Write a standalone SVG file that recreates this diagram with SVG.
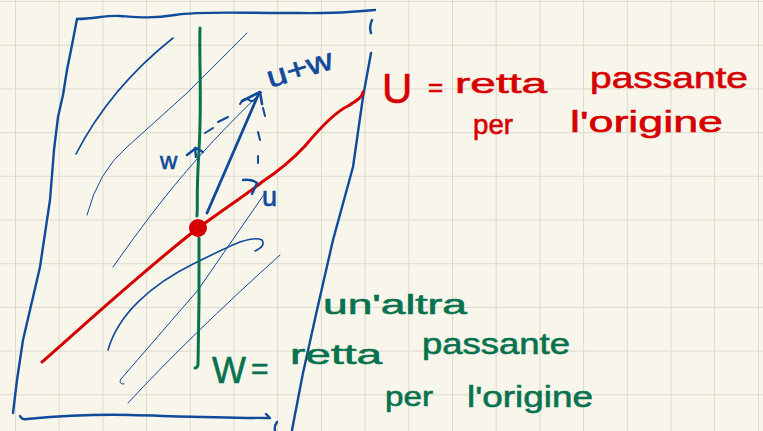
<svg xmlns="http://www.w3.org/2000/svg" width="763" height="431" viewBox="0 0 763 431">
<defs>
<pattern id="grid" patternUnits="userSpaceOnUse" x="15" y="1" width="43.7" height="43.7">
<path d="M0,0 V43.7 M0,0 H43.7" fill="none" stroke="#dcdacb" stroke-width="2"/>
</pattern>
<style>
.b{fill:none;stroke:#0f4a9b;stroke-linecap:round;stroke-linejoin:round}
.r{fill:none;stroke:#d60000;stroke-linecap:round;stroke-linejoin:round}
.g{fill:none;stroke:#08724f;stroke-linecap:round;stroke-linejoin:round}
.frame{stroke-width:2.4}
.thin{stroke-width:1}
.mid{stroke-width:1.6}
.tb{font-family:"Liberation Sans","DejaVu Sans",sans-serif;fill:#0f4a9b;stroke:#0f4a9b;stroke-width:0.6}
.tr{font-family:"Liberation Sans","DejaVu Sans",sans-serif;fill:#d60000;stroke:#d60000;stroke-width:0.6}
.tg{font-family:"Liberation Sans","DejaVu Sans",sans-serif;fill:#08724f;stroke:#08724f;stroke-width:0.6}
</style>
</defs>
<rect width="763" height="431" fill="#f8f6ea"/>
<rect width="763" height="431" fill="url(#grid)"/>

<g id="plane">
<path class="b frame" d="M77,19 C95,19 105,15 120,16 S150,19 175,15 S240,13 280,13 S330,14 375,10"/>
<path class="b frame" d="M77,19 L72,45 L67,70 L63,95 L58,117 L54,150 L50,200 L40,267 L30,310 L23,340 L17,380 L13,413"/>
<path class="b frame" d="M20,416 Q22,420 27,419 C60,416 90,414 130,415 S220,418 270,418 L266,414"/>
<path class="b frame" d="M372,20 Q369,27 371,33"/>
<path class="b frame" d="M371,53 L363,97 L353,167 L333,240 L317,310 L303,373 L292,430"/>
<path class="b frame" d="M277,422 Q274,426 275,431"/>
</g>

<g id="hatching">
<path class="b mid" d="M76,154 Q110,88 173,38"/>
<path class="b thin" d="M87,215 Q98,172 127,147 L187,93 Q215,65 247,33"/>
<path class="b thin" d="M113,267 C150,215 190,160 262,92"/>
<path class="b mid" d="M108,350 C118,315 150,285 195,263 C225,249 250,234 262,240 Q266,246 255,251"/>
<path class="b thin" d="M124,384 Q118,384 121,379 L198,290 L265,193"/>
<path class="b thin" d="M128,403 Q190,336 280,255"/>
</g>

<g id="line-U">
<path class="r" stroke-width="3" d="M42,362 C70,338 130,282 193,232 C225,208 245,196 262,182 C280,170 292,160 305,146 C320,128 335,112 348,106 C356,101 362,98 363,92"/>
</g>

<g id="line-W">
<path class="g" stroke-width="3" d="M200,28 C199,60 202,100 199,150 S198,200 197,216"/>
<path class="g" stroke-width="3" d="M199,238 L199,300 L198,365 Q197,368 195,368"/>
</g>

<g id="origin">
<ellipse cx="198" cy="228" rx="9" ry="9" fill="#d60000"/>
</g>

<g id="vectors">
<path class="b" stroke-width="2.8" d="M207,213 L259,93"/>
<path class="b" stroke-width="2.6" d="M242,101 L260,92 L262,104"/>
<path class="b" stroke-width="2.4" d="M187,155 L196,148 L203,152 M195,148 L196,157"/>
<path class="b" stroke-width="2.4" d="M243,180 Q252,179 257,183 L252,194"/>
<path class="b" stroke-width="2" d="M205,133 L213,128 M218,122 L228,117 M240,104 Q244,97 249,100 Q253,103 257,97"/>
<path class="b" stroke-width="2" d="M263,108 L265,116 M258,132 L260,140 M258,156 L258,163"/>
</g>

<g id="labels">
<text class="tb" x="160" y="169" font-size="24">w</text>
<text class="tb" x="262" y="206" font-size="27">u</text>
<text class="tb" x="270" y="88" font-size="30" transform="rotate(-17 270 88)" textLength="68" lengthAdjust="spacingAndGlyphs">u+w</text>

<text class="tr" x="382" y="103" font-size="42">U</text>
<text class="tr" x="428" y="96" font-size="26">=</text>
<text class="tr" x="455" y="93" font-size="28" textLength="92" lengthAdjust="spacingAndGlyphs">retta</text>
<text class="tr" x="590" y="88" font-size="30" textLength="158" lengthAdjust="spacingAndGlyphs">passante</text>
<text class="tr" x="473" y="134" font-size="28" textLength="40" lengthAdjust="spacingAndGlyphs">per</text>
<text class="tr" x="570" y="132" font-size="30" textLength="153" lengthAdjust="spacingAndGlyphs">l'origine</text>

<text class="tg" x="323" y="314" font-size="28" textLength="144" lengthAdjust="spacingAndGlyphs">un'altra</text>
<text class="tg" x="212" y="383" font-size="36">W</text>
<text class="tg" x="251" y="379" font-size="30">=</text>
<text class="tg" x="290" y="364" font-size="28" textLength="92" lengthAdjust="spacingAndGlyphs">retta</text>
<text class="tg" x="422" y="354" font-size="30" textLength="148" lengthAdjust="spacingAndGlyphs">passante</text>
<text class="tg" x="385" y="406" font-size="28" textLength="48" lengthAdjust="spacingAndGlyphs">per</text>
<text class="tg" x="467" y="407" font-size="30" textLength="126" lengthAdjust="spacingAndGlyphs">l'origine</text>
</g>
</svg>
